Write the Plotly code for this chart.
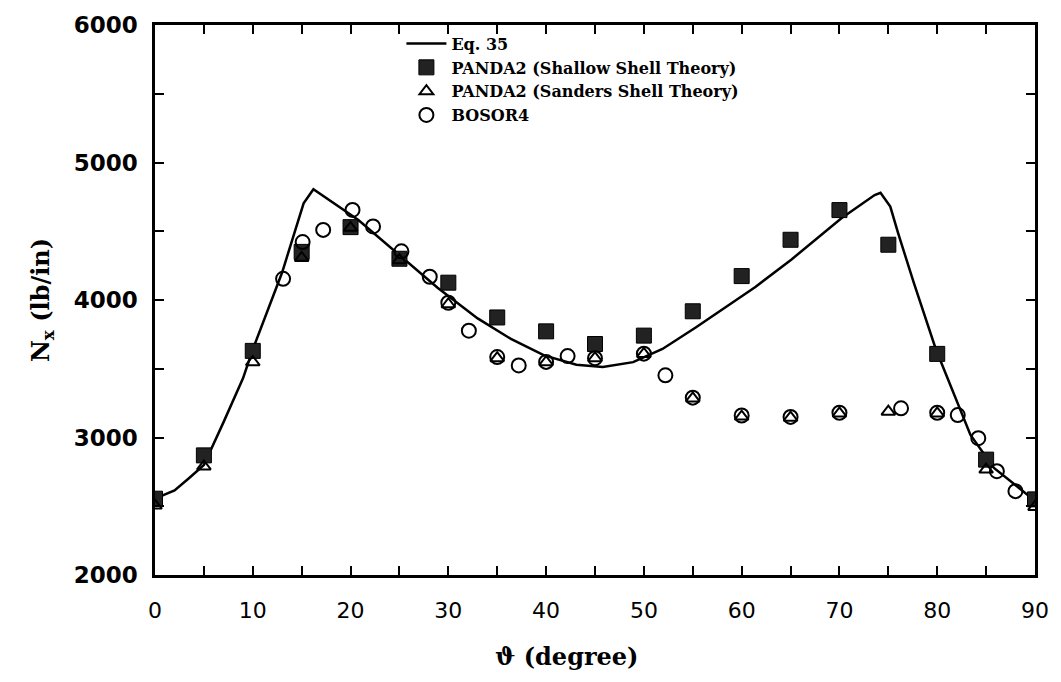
import plotly.graph_objects as go

# Eq. 35 curve
eq_theta = [0, 2, 3.5, 5, 7, 9, 10, 13, 15.2, 16.2, 20.8, 25.5, 28.9, 33, 36.4, 39.8, 43.1, 45.8,
            48.9, 51.9, 55.3, 61.4, 65.1, 70.2, 73.6, 74.2, 75.2, 76, 77.6, 79.85, 83.4, 85.8, 89.8, 90]
eq_N = [2555, 2615, 2706, 2800, 3110, 3430, 3640, 4200, 4703, 4806, 4582, 4294, 4089, 3866, 3717, 3597, 3529, 3512,
        3548, 3644, 3800, 4095, 4295, 4594, 4763, 4780, 4679, 4486, 4126, 3644, 3019, 2779, 2550, 2540]

# PANDA2 (Shallow Shell Theory)
shallow_theta = [0, 5, 10, 15, 20, 25, 30, 35, 40, 45, 50, 55, 60, 65, 70, 75, 80, 85, 90]
shallow_N = [2555, 2870, 3630, 4350, 4530, 4300, 4126, 3873, 3772, 3680, 3741, 3918, 4174, 4438, 4654, 4402, 3608, 2839, 2550]

# PANDA2 (Sanders Shell Theory)
sanders_theta = [0, 5, 10, 15, 20, 25, 30, 35, 40, 45, 50, 55, 60, 65, 70, 75, 80, 85, 90]
sanders_N = [2505, 2790, 3548, 4306, 4525, 4290, 3969, 3577, 3548, 3577, 3608, 3284, 3152, 3144, 3175, 3188, 3175, 2767, 2495]

# BOSOR4
bosor_theta = [13.1, 15.1, 17.2, 20.2, 22.3, 25.2, 28.1, 30, 32.1, 35, 37.2, 40, 42.2, 45, 50, 52.2, 55, 60, 65, 70,
               76.3, 80, 82.1, 84.2, 86.1, 88]
bosor_N = [4154, 4421, 4510, 4655, 4535, 4354, 4169, 3980, 3777, 3585, 3524, 3550, 3592, 3577, 3610, 3452, 3290, 3160,
           3150, 3180, 3212, 3180, 3163, 2995, 2755, 2610]

x_tickvals = list(range(0, 100, 10))
y_tickvals = list(range(2000, 7000, 1000))

fig = go.Figure()
fig.add_trace(go.Scatter(x=eq_theta, y=eq_N, mode="lines", name="Eq. 35",
                         line=dict(color="black", width=2.5)))
fig.add_trace(go.Scatter(x=shallow_theta, y=shallow_N, mode="markers", name="PANDA2 (Shallow Shell Theory)",
                         marker=dict(symbol="square", size=15, color="#222222",
                                     line=dict(color="black", width=1))))
fig.add_trace(go.Scatter(x=sanders_theta, y=sanders_N, mode="markers", name="PANDA2 (Sanders Shell Theory)",
                         marker=dict(symbol="triangle-up-open", size=12, color="black",
                                     line=dict(color="black", width=2))))
fig.add_trace(go.Scatter(x=bosor_theta, y=bosor_N, mode="markers", name="BOSOR4",
                         marker=dict(symbol="circle-open", size=14, color="black",
                                     line=dict(color="black", width=2))))

axis_common = dict(showgrid=False, zeroline=False, showline=True, linecolor="black", linewidth=2.5,
                   mirror="ticks", ticks="inside", ticklen=9, tickwidth=2, tickcolor="black")

fig.update_layout(
    width=1061, height=682,
    margin=dict(l=155, r=19, t=20, b=107),
    paper_bgcolor="white", plot_bgcolor="white",
    showlegend=True,
    legend=dict(x=0.28, y=0.997, xanchor="left", yanchor="top", bgcolor="rgba(0,0,0,0)",
                font=dict(family="DejaVu Serif", size=16, color="black", weight="bold"),
                itemwidth=40),
    xaxis=dict(range=[0, 90], tickvals=x_tickvals,
               minor=dict(dtick=5, ticks="inside", ticklen=9, tickwidth=2, tickcolor="black", showgrid=False),
               tickfont=dict(family="DejaVu Sans", size=22, color="black"),
               ticklabelstandoff=14,
               **axis_common),
    yaxis=dict(range=[2000, 6000], tickvals=y_tickvals,
               minor=dict(dtick=500, ticks="inside", ticklen=9, tickwidth=2, tickcolor="black", showgrid=False),
               tickfont=dict(family="DejaVu Sans", size=23, color="black", weight="bold"),
               ticklabelstandoff=10,
               title=dict(text="N<sub>x</sub> (lb/in)",
                          font=dict(family="DejaVu Serif", size=24, color="black", weight="bold"),
                          standoff=18),
               **axis_common),
    annotations=[dict(text="ϑ (degree)", xref="paper", yref="paper", x=0.468, y=-0.148,
                      xanchor="center", yanchor="middle", showarrow=False,
                      font=dict(family="DejaVu Serif", size=24, color="black", weight="bold"))],
)

fig.write_html("out.html")
